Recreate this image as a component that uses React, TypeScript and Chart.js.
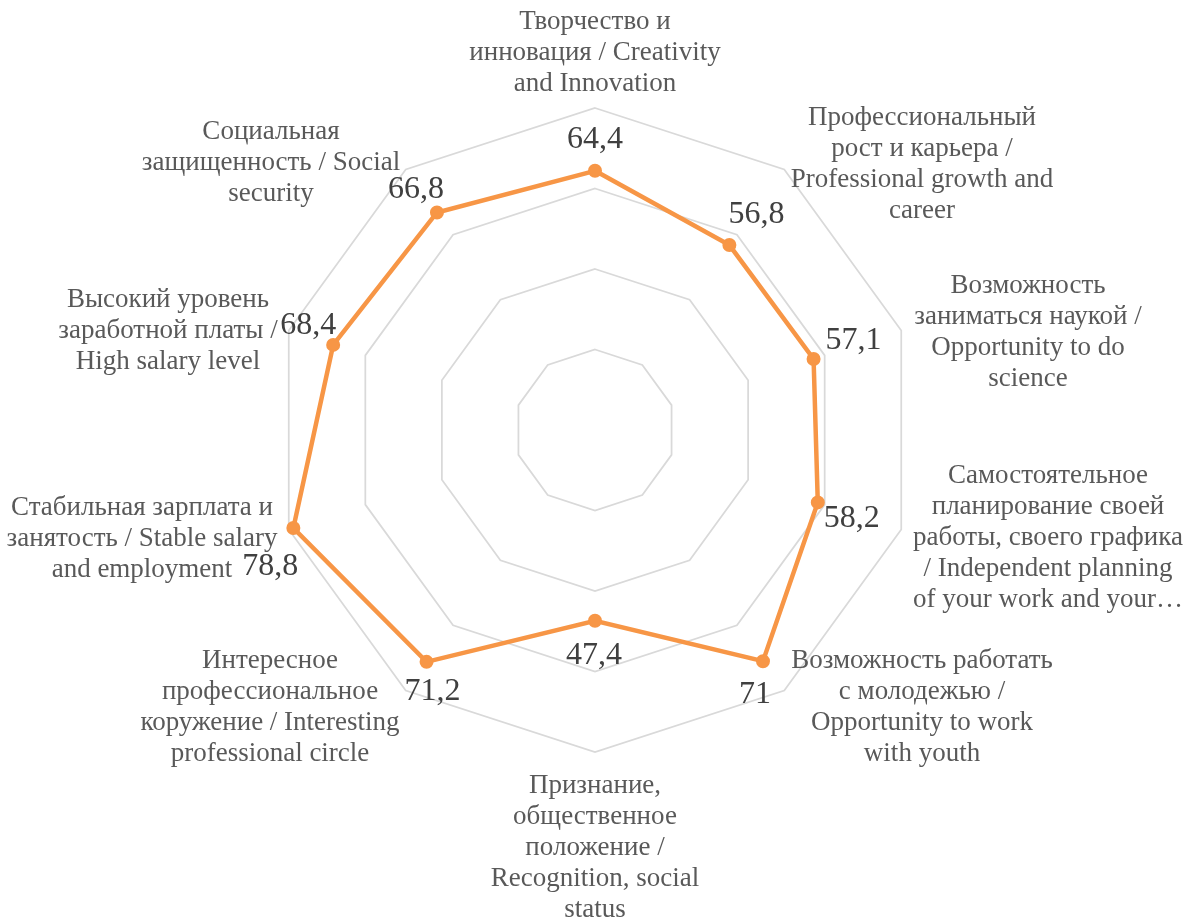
import React, { useEffect, useRef } from "react";
import { Chart, registerables } from "chart.js";

Chart.register(...registerables);

// Survey values per motivation factor, clockwise from the top
const categories: string[][] = [
  ["Творчество и", "инновация / Creativity", "and Innovation"],
  ["Профессиональный", "рост и карьера /", "Professional growth and", "career"],
  ["Возможность", "заниматься наукой /", "Opportunity to do", "science"],
  [
    "Самостоятельное",
    "планирование своей",
    "работы, своего графика",
    "/ Independent planning",
    "of your work and your…",
  ],
  ["Возможность работать", "с молодежью /", "Opportunity to work", "with youth"],
  ["Признание,", "общественное", "положение /", "Recognition, social", "status"],
  ["Интересное", "профессиональное", "коружение / Interesting", "professional circle"],
  ["Стабильная зарплата и", "занятость / Stable salary", "and employment"],
  ["Высокий уровень", "заработной платы /", "High salary level"],
  ["Социальная", "защищенность / Social", "security"],
];

const values: number[] = [64.4, 56.8, 57.1, 58.2, 71, 47.4, 71.2, 78.8, 68.4, 66.8];

const scaleMin = 0;
const scaleMax = 80;
const scaleStep = 20;

// Where each category caption block is centred, relative to the radar centre (px)
const captionOffsets: [number, number][] = [
  [0, -377],
  [327, -266],
  [433, -98],
  [453, 108],
  [327, 277],
  [0, 418],
  [-325, 277],
  [-453, 109],
  [-427, -99],
  [-324, -267],
];

// Value label offset from its point (px)
const valueLabelOffsets: [number, number][] = [
  [0, -31],
  [27, -30],
  [40, -18],
  [34, 16],
  [-8, 33],
  [-1, 35],
  [6, 30],
  [-23, 39],
  [-25, -19],
  [-21, -23],
];

const ORANGE = "#F79646";
const SERIF = "'Liberation Serif', 'Times New Roman', serif";

const formatValue = (v: number) => String(v).replace(".", ",");

const labelsPlugin = {
  id: "radarTexts",
  afterDatasetsDraw(chart: any) {
    const scale = chart.scales.r;
    const ctx: CanvasRenderingContext2D = chart.ctx;
    const cx = scale.xCenter;
    const cy = scale.yCenter;
    ctx.save();

    // category captions
    ctx.font = `27px ${SERIF}`;
    ctx.fillStyle = "#595959";
    ctx.textAlign = "center";
    ctx.textBaseline = "middle";
    const lineH = 31;
    categories.forEach((lines, i) => {
      const [dx, dy] = captionOffsets[i];
      const n = lines.length;
      lines.forEach((line, j) => {
        ctx.fillText(line, cx + dx, cy + dy + (j - (n - 1) / 2) * lineH);
      });
    });

    // value labels
    ctx.font = `32px ${SERIF}`;
    ctx.fillStyle = "#404040";
    const meta = chart.getDatasetMeta(0);
    meta.data.forEach((pt: any, i: number) => {
      const [dx, dy] = valueLabelOffsets[i];
      ctx.fillText(formatValue(values[i]), pt.x + dx, pt.y + dy);
    });

    ctx.restore();
  },
};

export default function App() {
  const canvasRef = useRef<HTMLCanvasElement | null>(null);

  useEffect(() => {
    if (!canvasRef.current) return;
    const chart = new Chart(canvasRef.current, {
      type: "radar",
      data: {
        labels: categories,
        datasets: [
          {
            data: values,
            borderColor: ORANGE,
            backgroundColor: ORANGE,
            borderWidth: 4.5,
            fill: false,
            pointRadius: 6,
            pointBorderWidth: 2,
            pointBackgroundColor: ORANGE,
            pointBorderColor: ORANGE,
            tension: 0,
          },
        ],
      },
      options: {
        animation: false,
        responsive: true,
        maintainAspectRatio: false,
        layout: { padding: { top: 108, bottom: 166, left: 2, right: 0 } },
        plugins: {
          legend: { display: false },
          tooltip: { enabled: false },
        },
        scales: {
          r: {
            min: scaleMin,
            max: scaleMax,
            ticks: { stepSize: scaleStep, display: false },
            grid: { circular: false, color: "#D9D9D9", lineWidth: 1.75 },
            angleLines: { display: false },
            pointLabels: { display: false },
          },
        },
      },
      plugins: [labelsPlugin],
    });
    return () => chart.destroy();
  }, []);

  return (
    <div
      style={{
        position: "fixed",
        left: 0,
        top: 0,
        width: 1188,
        height: 918,
        background: "#ffffff",
      }}
    >
      <canvas ref={canvasRef} />
    </div>
  );
}
